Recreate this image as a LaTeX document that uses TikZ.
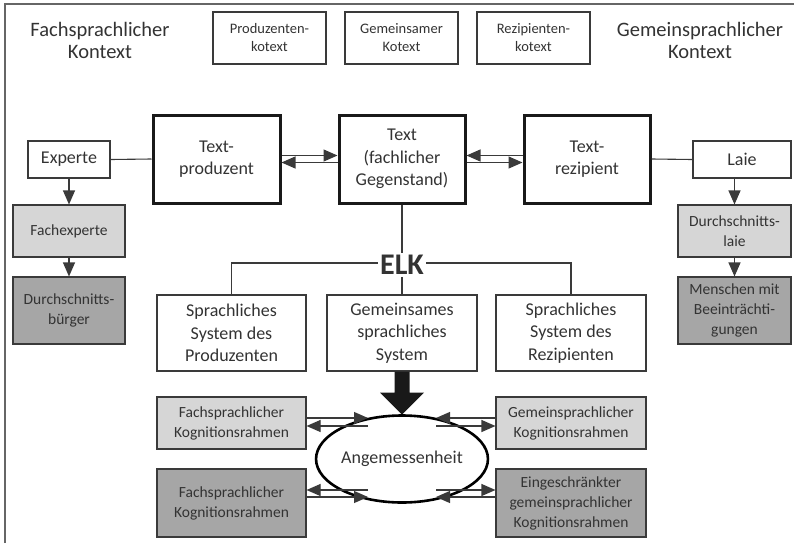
\documentclass[tikz,border=0pt]{standalone}
\usepackage{fontspec}
\setmainfont{Carlito}
\usetikzlibrary{arrows.meta,calc,shapes.geometric}
\definecolor{txt}{HTML}{333333}
\definecolor{edge}{HTML}{3A3A3A}
\definecolor{lightg}{HTML}{D6D6D6}
\definecolor{darkg}{HTML}{A6A6A6}
\tikzset{
  box/.style={draw=edge, line width=1.1pt, rectangle, align=center, inner sep=0pt, text=txt},
  heavybox/.style={draw=black!90, line width=3pt, rectangle, align=center, inner sep=0pt, text=txt},
  lt/.style={fill=lightg},
  dk/.style={fill=darkg},
  arr/.style={draw=edge, line width=1.1pt, -{Triangle[length=14pt,width=12pt]}},
  ln/.style={draw=edge, line width=1.1pt},
  fs/.style={font=\fontsize{14.5}{18}\selectfont},
  fm/.style={font=\fontsize{15.5}{20}\selectfont},
  fl/.style={font=\fontsize{18}{22.5}\selectfont},
  fh/.style={font=\fontsize{20.5}{22}\selectfont},
}
\begin{document}
\begin{tikzpicture}[x=1pt,y=-1pt]
\useasboundingbox (0,0) rectangle (794,543);
\draw[draw=gray!80!black, line width=1.4pt] (5,543) -- (5,4) -- (794,4);

% header
\node[fh, text=txt, align=center] (fkx) at (100,40) {Fachsprachlicher\\Kontext};
\node[fh, text=txt, align=center] (gkx) at (700,40) {Gemeinsprachlicher\\Kontext};
\node[box, fs, minimum width=113pt, minimum height=52pt] (pk) at (269.5,38) {Produzenten-\\kotext};
\node[box, fs, minimum width=113pt, minimum height=52pt] (gk) at (401.5,38) {Gemeinsamer\\Kotext};
\node[box, fs, minimum width=113pt, minimum height=52pt] (rk) at (533.5,38) {Rezipienten-\\kotext};

% row 2
\node[box, fl, minimum width=82pt, minimum height=37pt] (ex) at (69,159.5) {Experte};
\node[heavybox, fl, minimum width=127pt, minimum height=88pt] (tp) at (216.5,159) {Text-\\produzent};
\node[heavybox, fl, minimum width=126pt, minimum height=88pt] (tx) at (402,159) {Text\\(fachlicher\\Gegenstand)};
\node[heavybox, fl, minimum width=126pt, minimum height=88pt] (tr) at (587,159) {Text-\\rezipient};
\node[box, fl, minimum width=98pt, minimum height=37pt] (la) at (742,159.5) {Laie};

\draw[ln] (ex.east) -- (tp.west);
\draw[ln] (tr.east) -- (la.west);
\draw[arr] ($(tp.east)+(0,-3.5)$) -- ($(tx.west)+(0,-3.5)$);
\draw[arr] ($(tx.west)+(0,3.5)$) -- ($(tp.east)+(0,3.5)$);
\draw[arr] ($(tr.west)+(0,-3.5)$) -- ($(tx.east)+(0,-3.5)$);
\draw[arr] ($(tx.east)+(0,3.5)$) -- ($(tr.west)+(0,3.5)$);

% side columns
\node[box, lt, fm, minimum width=112pt, minimum height=52pt] (fe) at (69,231) {Fachexperte};
\node[box, dk, fm, minimum width=112pt, minimum height=67pt] (db) at (69,310.5) {Durchschnitts-\\bürger};
\node[box, lt, fm, minimum width=113pt, minimum height=52pt] (dl) at (734.5,231) {Durchschnitts-\\laie};
\node[box, dk, fm, minimum width=113pt, minimum height=67pt] (mb) at (734.5,310.5) {Menschen mit\\Beeinträchti-\\gungen};
\draw[arr] (ex.south) -- (fe.north);
\draw[arr] (fe.south) -- (db.north);
\draw[arr] (la.south -| dl.north) -- (dl.north);
\draw[arr] (dl.south) -- (mb.north);

% ELK
\node[text=txt, font=\fontsize{30}{30}\bfseries\selectfont, inner sep=2pt] (elk) at (402,265) {ELK};
\node[box, fl, minimum width=149pt, minimum height=76pt] (sp) at (231.5,333) {Sprachliches\\System des\\Produzenten};
\node[box, fl, minimum width=150pt, minimum height=76pt] (gs) at (402,333) {Gemeinsames\\sprachliches\\System};
\node[box, fl, minimum width=150pt, minimum height=76pt] (sr) at (571,333) {Sprachliches\\System des\\Rezipienten};
\draw[ln] (tx.south) -- (elk.north);
\draw[ln] (elk.south) -- (gs.north);
\draw[ln] ($(elk.west)+(0,-2)$) -| (sp.north);
\draw[ln] ($(elk.east)+(0,-2)$) -| (sr.north);

% big arrow
\fill[black!90] ($(gs.south)+(-7.5,0)$) -- ++(0,21) -- ++(-14.5,0) -- ($(gs.south)+(0,43)$) -- ($(gs.south)+(22,21)$) -- ++(-14.5,0) -- ++(0,-21) -- cycle;

% ellipse
\node[draw=black, line width=2.6pt, ellipse, minimum width=150pt, minimum height=87pt, inner sep=0pt, fl, text=txt] (an) at (402,459) {Angemessenheit};

% Kognitionsrahmen
\node[box, lt, fm, minimum width=149pt, minimum height=52pt] (fk1) at (231.5,423) {Fachsprachlicher\\Kognitionsrahmen};
\node[box, lt, fm, minimum width=150pt, minimum height=52pt] (gk1) at (571,423) {Gemeinsprachlicher\\Kognitionsrahmen};
\node[box, dk, fm, minimum width=149pt, minimum height=68pt] (fk2) at (231.5,503) {Fachsprachlicher\\Kognitionsrahmen};
\node[box, dk, fm, minimum width=150pt, minimum height=68pt] (ek2) at (571,503) {Eingeschränkter\\gemeinsprachlicher\\Kognitionsrahmen};

\coordinate (aL1) at (368,418);
\coordinate (aL2) at (368,426);
\coordinate (aL3) at (368,490);
\coordinate (aL4) at (368,497);
\coordinate (aR1) at (436,418);
\coordinate (aR2) at (436,426);
\coordinate (aR3) at (436,490);
\coordinate (aR4) at (436,497);

\draw[arr] (fk1.east |- aL1) -- (aL1);
\draw[arr] (aL2) -- (fk1.east |- aL2);
\draw[arr] (aL3) -- (fk2.east |- aL3);
\draw[arr] (fk2.east |- aL4) -- (aL4);
\draw[arr] (gk1.west |- aR1) -- (aR1);
\draw[arr] (aR2) -- (gk1.west |- aR2);
\draw[arr] (aR3) -- (ek2.west |- aR3);
\draw[arr] (ek2.west |- aR4) -- (aR4);
\end{tikzpicture}
\end{document}
